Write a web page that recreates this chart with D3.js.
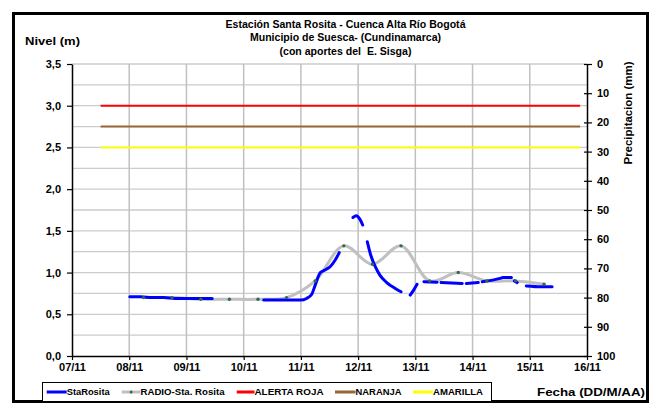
<!DOCTYPE html>
<html><head><meta charset="utf-8">
<script src="https://cdn.jsdelivr.net/npm/d3@7"></script>
<style>
html,body{margin:0;padding:0;background:#fff;}
svg text{font-family:"Liberation Sans",Arial,sans-serif;font-weight:bold;fill:#000;white-space:pre;}
</style></head>
<body>
<svg id="chart" width="655" height="405"></svg>
<script>
// ---------------- DATA ----------------
const titleLines = ["Estación Santa Rosita - Cuenca Alta Río Bogotá", "Municipio de Suesca- (Cundinamarca)", "(con aportes del  E. Sisga)"];
const xTickDays = [7, 8, 9, 10, 11, 12, 13, 14, 15, 16];           // day of November
const xTickLabels = ["07/11","08/11","09/11","10/11","11/11","12/11","13/11","14/11","15/11","16/11"];
const yTicks = [0, 0.5, 1.0, 1.5, 2.0, 2.5, 3.0, 3.5];
const yTickLabels = ["0,0","0,5","1,0","1,5","2,0","2,5","3,0","3,5"];
const precipTicks = [0, 10, 20, 30, 40, 50, 60, 70, 80, 90, 100];

// StaRosita (blue) – null marks missing readings (gaps)
const staRositaDay = [8.01,8.2,8.4,8.6,8.8,9.0,9.2,9.45, null, 10.35,10.6,10.9,11.0,11.1,11.19,11.25,11.34,11.42,11.51,11.6,11.67, null,
  11.91,11.97,12.03,12.08, null, 12.16,12.22,12.30,12.38,12.50,12.65,12.75, null, 12.91,12.97,13.03, null,
  13.15,13.38, null, 13.45,13.82, null, 13.89,14.10, null, 14.17,14.48,14.53,14.68, null, 14.73,14.78, null, 14.94,15.2,15.39];
const staRositaLevel = [0.71,0.71,0.70,0.70,0.69,0.69,0.69,0.69, null, 0.67,0.67,0.67,0.67,0.69,0.74,0.85,1.0,1.03,1.07,1.15,1.24, null,
  1.66,1.68,1.64,1.57, null, 1.37,1.21,1.07,0.97,0.88,0.81,0.77, null, 0.73,0.79,0.86, null,
  0.89,0.885, null, 0.88,0.87, null, 0.87,0.88, null, 0.89,0.93,0.94,0.94, null, 0.90,0.88, null, 0.84,0.83,0.83];

// RADIO-Sta. Rosita (gray, with markers)
const radioDay = [8.25,8.75,9.25,9.75,10.25,10.75,11.25,11.75,12.25,12.75,13.25,13.75,14.25,14.75,15.25];
const radioLevel = [0.70,0.70,0.68,0.68,0.68,0.70,0.90,1.32,1.10,1.32,0.90,1.00,0.90,0.90,0.86];

// Alert thresholds
const alertNames = ["ALERTA ROJA","NARANJA","AMARILLA"];
const alertLevels = [3.0, 2.75, 2.5];
const alertColors = ["#ff0000","#996633","#ffff00"];
const alertStartDay = 7.5, alertEndDay = 15.88;

const legendNames = ["StaRosita","RADIO-Sta. Rosita","ALERTA ROJA","NARANJA","AMARILLA"];
const legendColors = ["#0000ff","#c0c0c0","#ff0000","#996633","#ffff00"];

// ---------------- CHART ----------------
const svg = d3.select("#chart");
const L = 72, R = 587, T = 64, B = 356;
const x = d3.scaleLinear().domain([7,16]).range([L,R]);
const y = d3.scaleLinear().domain([0,3.5]).range([B,T]);
const yP = d3.scaleLinear().domain([0,100]).range([T,B]);

// frame
svg.append("rect").attr("x",13.5).attr("y",13.5).attr("width",634).attr("height",388)
  .attr("fill","#fff").attr("stroke","#000").attr("stroke-width",3);

// gridlines
const hGrid = d3.range(0.25, 3.51, 0.25);
svg.append("g").selectAll("line").data(hGrid).join("line")
  .attr("x1",L).attr("x2",R).attr("y1",d=>y(d)).attr("y2",d=>y(d))
  .attr("stroke","#cccccc").attr("stroke-width",1.3);
svg.append("g").selectAll("line").data(xTickDays.slice(1,-1)).join("line")
  .attr("x1",d=>x(d)).attr("x2",d=>x(d)).attr("y1",T).attr("y2",B)
  .attr("stroke","#c0c0c0").attr("stroke-width",1.5);

// alert lines
svg.append("g").selectAll("line").data(alertLevels).join("line")
  .attr("x1",x(alertStartDay)).attr("x2",x(alertEndDay))
  .attr("y1",d=>y(d)).attr("y2",d=>y(d))
  .attr("stroke",(d,i)=>alertColors[i]).attr("stroke-width",2);

// axes
const fmtX = d3.scaleOrdinal().domain(xTickDays).range(xTickLabels);
const xAxis = svg.append("g").attr("transform",`translate(0,${B})`)
  .call(d3.axisBottom(x).tickValues(xTickDays).tickFormat(d=>fmtX(d)).tickSize(4).tickPadding(3).tickSizeOuter(0));
const fmtY = d3.scaleOrdinal().domain(yTicks).range(yTickLabels);
const yAxis = svg.append("g").attr("transform",`translate(${L},0)`)
  .call(d3.axisLeft(y).tickValues(yTicks).tickFormat(d=>fmtY(d)).tickSize(5).tickPadding(6).tickSizeOuter(0));
const rAxis = svg.append("g").attr("transform",`translate(${R},0)`)
  .call(d3.axisRight(yP).tickValues(precipTicks).tickSize(5).tickPadding(5).tickSizeOuter(0));
rAxis.selectAll(".tick line").attr("x1",-3);
[xAxis,yAxis,rAxis].forEach(g=>{
  g.select(".domain").attr("stroke","#000").attr("stroke-width",1.5);
  g.selectAll(".tick line").attr("stroke","#000").attr("stroke-width",1.2);
  g.selectAll("text").attr("font-size","11px").attr("font-family","Liberation Sans, Arial, sans-serif").attr("font-weight","bold").attr("fill","#000");
});

// series
const radioPts = radioDay.map((d,i)=>[d, radioLevel[i]]);
svg.append("path").datum(radioPts)
  .attr("d", d3.line().x(d=>x(d[0])).y(d=>y(d[1])).curve(d3.curveCatmullRom.alpha(0.5)))
  .attr("fill","none").attr("stroke","#c0c0c0").attr("stroke-width",3);

const staPts = staRositaDay.map((d,i)=>[d, staRositaLevel[i]]);
svg.append("path").datum(staPts)
  .attr("d", d3.line().defined(d=>d[1]!==null).x(d=>x(d[0])).y(d=>y(d[1])).curve(d3.curveMonotoneX))
  .attr("fill","none").attr("stroke","#0000ff").attr("stroke-width",3).attr("stroke-linecap","round");

svg.append("g").selectAll("circle").data(radioPts).join("circle")
  .attr("cx",d=>x(d[0])).attr("cy",d=>y(d[1])).attr("r",1.7).attr("fill","#2e6b50");

// texts
function txt(s, xx, yy, size, anchor, len){
  const t = svg.append("text").attr("x",xx).attr("y",yy).attr("font-size",size+"px")
    .attr("text-anchor",anchor).attr("dominant-baseline","middle").text(s);
  if(len) t.attr("textLength",len).attr("lengthAdjust","spacingAndGlyphs");
  return t;
}
// title: all three lines condensed by the same factor
const tl = titleLines.map((s,i)=>txt(s, 345.5, 25 + i*13.5, 11, "middle"));
const w0 = tl[0].node().getComputedTextLength();
const k = 240 / w0;
tl.forEach(t=>{
  const w = t.node().getComputedTextLength();
  t.attr("textLength", w*k).attr("lengthAdjust","spacingAndGlyphs");
});
txt("Nivel (m)", 25, 42, 11, "start", 55);
txt("Fecha (DD/M/AA)", 537, 393, 11.5, "start", 108);
svg.append("text").attr("transform","translate(629,113) rotate(-90)")
  .attr("font-size","11px").attr("text-anchor","middle").attr("dominant-baseline","middle")
  .attr("textLength",103).attr("lengthAdjust","spacingAndGlyphs").text("Precipitacion (mm)");

// legend
svg.append("rect").attr("x",42.5).attr("y",382.5).attr("width",449).attr("height",19)
  .attr("fill","#fff").attr("stroke","#000").attr("stroke-width",1);
const legLineX = [46.7,121.7,236.7,335,413];
const legTextX = [66.7,140.5,254.5,355.5,433];
const legTextW = [43,84,69,46,50];
const lg = svg.append("g");
legendNames.forEach((n,i)=>{
  lg.append("line").attr("x1",legLineX[i]).attr("x2",legTextX[i]).attr("y1",392).attr("y2",392)
    .attr("stroke",legendColors[i]).attr("stroke-width",3);
  if(i===1) lg.append("circle").attr("cx",(legLineX[i]+legTextX[i])/2).attr("cy",392).attr("r",1.5).attr("fill","#2e6b50");
  lg.append("text").attr("x",legTextX[i]).attr("y",392.5).attr("font-size","8.5px")
    .attr("dominant-baseline","middle").attr("textLength",legTextW[i]).attr("lengthAdjust","spacingAndGlyphs").text(n);
});
</script>
</body></html>
